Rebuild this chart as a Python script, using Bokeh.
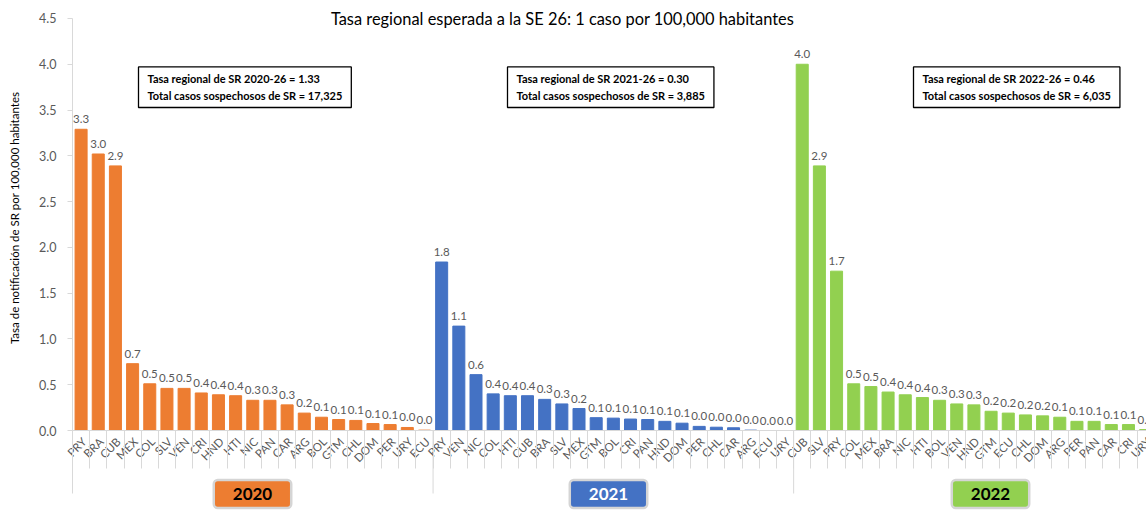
import math
from bokeh.plotting import figure
from bokeh.models import (Range1d, FixedTicker, LinearAxis, Label, ColumnDataSource,
                          CustomJSTickFormatter)
from bokeh.core.properties import value
from bokeh.embed import file_html
from bokeh.resources import INLINE

# ---------------- data ----------------
years = ["2020", "2021", "2022"]
countries_2020 = ["PRY", "BRA", "CUB", "MEX", "COL", "SLV", "VEN", "CRI", "HND", "HTI", "NIC",
                  "PAN", "CAR", "ARG", "BOL", "GTM", "CHL", "DOM", "PER", "URY", "ECU"]
rates_2020 = [3.29, 3.02, 2.89, 0.73, 0.51, 0.46, 0.46, 0.41, 0.39, 0.38, 0.33,
              0.33, 0.28, 0.19, 0.145, 0.12, 0.11, 0.076, 0.065, 0.033, 0.004]
countries_2021 = ["PRY", "VEN", "NIC", "COL", "HTI", "CUB", "BRA", "SLV", "MEX", "GTM", "BOL",
                  "CRI", "PAN", "HND", "DOM", "PER", "CHL", "CAR", "ARG", "ECU", "URY"]
rates_2021 = [1.84, 1.14, 0.61, 0.40, 0.38, 0.38, 0.34, 0.29, 0.24, 0.14, 0.135,
              0.125, 0.12, 0.10, 0.08, 0.045, 0.036, 0.03, 0.004, 0.0, 0.0]
countries_2022 = ["CUB", "SLV", "PRY", "COL", "MEX", "BRA", "NIC", "HTI", "BOL", "VEN", "HND",
                  "GTM", "ECU", "CHL", "DOM", "ARG", "PER", "PAN", "CAR", "CRI", "URY"]
rates_2022 = [4.0, 2.89, 1.74, 0.51, 0.48, 0.42, 0.39, 0.36, 0.33, 0.29, 0.28,
              0.21, 0.19, 0.17, 0.16, 0.145, 0.10, 0.10, 0.065, 0.065, 0.01]
colors = ["#ED7D31", "#4472C4", "#92D050"]
badge_text_colors = ["#000000", "#FFFFFF", "#000000"]
regional_rates = ["1.33", "0.30", "0.46"]
total_cases = ["17,325", "3,885", "6,035"]
y_ticks = [0.0, 0.5, 1.0, 1.5, 2.0, 2.5, 3.0, 3.5, 4.0, 4.5]

title_text = "Tasa regional esperada a la SE 26: 1 caso por 100,000 habitantes"
ylabel_text = "Tasa de notificación de SR por  100,000 habitantes"

groups = [(countries_2020, rates_2020), (countries_2021, rates_2021), (countries_2022, rates_2022)]
n_per = len(countries_2020)

xs, tops, fills, labels, cats = [], [], [], [], []
for g, (cs, rs) in enumerate(groups):
    for i, (c, r) in enumerate(zip(cs, rs)):
        xs.append(g * n_per + i + 0.5)
        tops.append(r)
        fills.append(colors[g])
        labels.append(f"{r:.1f}")
        cats.append(c)

src = ColumnDataSource(dict(x=xs, top=tops, color=fills, label=labels, cat=cats,
                            zero=[0.0] * len(xs)))

FONT = "Lato"
GREY = "#595959"
LINE = "#D9D9D9"

# ---------------- geometry (pixels of the page) ----------------
W, H = 1146, 510
x0_px, y0_px = 72, 430          # plot origin (x=0, y=0) on the page
px_per_slot = 17.17
px_per_unit = 91.56


def dx(px):
    return (px - x0_px) / px_per_slot


def dy(py):
    return (y0_px - py) / px_per_unit


p = figure(width=W, height=H, output_backend="svg", toolbar_location=None,
           x_range=Range1d(dx(0), dx(W)), y_range=Range1d(dy(H), dy(0)),
           x_axis_type=None, y_axis_type=None,
           min_border_left=0, min_border_right=0, min_border_top=0, min_border_bottom=0)
p.outline_line_color = None
p.xgrid.visible = False
p.ygrid.visible = False
p.background_fill_color = "white"
p.border_fill_color = "white"

# y axis, fixed at x = 0
yax = LinearAxis(ticker=FixedTicker(ticks=y_ticks), bounds=(dy(493), 4.5), fixed_location=0)
yax.axis_line_color = LINE
yax.major_tick_line_color = LINE
yax.major_tick_out = 5
yax.major_tick_in = 0
yax.minor_tick_line_color = None
yax.major_label_text_font = FONT
yax.major_label_text_font_size = "12.5px"
yax.major_label_text_color = GREY
yax.major_label_standoff = 11
yax.formatter = CustomJSTickFormatter(code="return tick.toFixed(1);")
p.add_layout(yax, "left")

# x axis, fixed at y = 0 (category boundaries as tick marks)
n_total = 3 * n_per
xax = LinearAxis(ticker=FixedTicker(ticks=list(range(n_total + 1))), fixed_location=0,
                 bounds=(0, dx(W)))
xax.formatter = CustomJSTickFormatter(code="return '';")
xax.axis_line_color = LINE
xax.major_tick_line_color = LINE
xax.major_tick_out = 38
xax.major_tick_in = 0
xax.minor_tick_line_color = None
p.add_layout(xax, "below")

# group separators
sep_x = [n_per * g for g in range(1, 3)]
p.segment(x0=sep_x, x1=sep_x, y0=[0] * len(sep_x), y1=[dy(493)] * len(sep_x),
          line_color=LINE, line_width=1)

# bars
p.vbar(x="x", top="top", bottom=0, width=0.7, fill_color="color", line_color="color", source=src)

# data labels
p.text(x="x", y="top", text="label", source=src, text_align="center", text_baseline="bottom",
       y_offset=-6, text_font=value(FONT), text_font_size="11.5px", text_color=GREY)

# category labels (rotated)
p.text(x="x", y="zero", text="cat", source=src, angle=math.pi / 4, text_align="right",
       text_baseline="middle", x_offset=3, y_offset=9, text_font=value(FONT),
       text_font_size="11.5px", text_color=GREY)

# title
p.add_layout(Label(x=dx(562), y=dy(18), text=title_text, text_align="center",
                   text_baseline="middle", text_font=FONT, text_font_size="16.4px",
                   text_color="#000000"))

# y label
p.add_layout(Label(x=dx(14), y=dy(216), text=ylabel_text,
                   angle=math.pi / 2, text_align="center", text_baseline="middle",
                   text_font=FONT, text_font_size="11.5px", text_color="#000000"))

# annotation boxes
box_left_px = [138, 507, 913]
for g in range(3):
    txt = (f"Tasa regional de SR {years[g]}-26 = {regional_rates[g]}\n"
           f"Total casos sospechosos de SR = {total_cases[g]}")
    p.add_layout(Label(x=dx(box_left_px[g]), y=dy(107),
                       text=txt, text_align="left", text_baseline="bottom",
                       text_font=FONT, text_font_style="bold", text_font_size="11px",
                       text_color="#000000", text_line_height=1.35,
                       border_line_color="#000000", border_line_width=1.3,
                       background_fill_color="white", padding=(9, 5)))

# year badges
badge_center_px = [252, 608, 990]
for g in range(3):
    p.add_layout(Label(x=dx(badge_center_px[g]), y=dy(493.5),
                       text=years[g], text_align="center", text_baseline="middle",
                       text_font=FONT, text_font_style="bold", text_font_size="17px",
                       text_color=badge_text_colors[g],
                       background_fill_color=colors[g],
                       border_line_color="#D5D5D5", border_line_width=2.5,
                       border_radius=4, padding=(19, 8)))

open("out.html", "w").write(file_html(p, INLINE))
